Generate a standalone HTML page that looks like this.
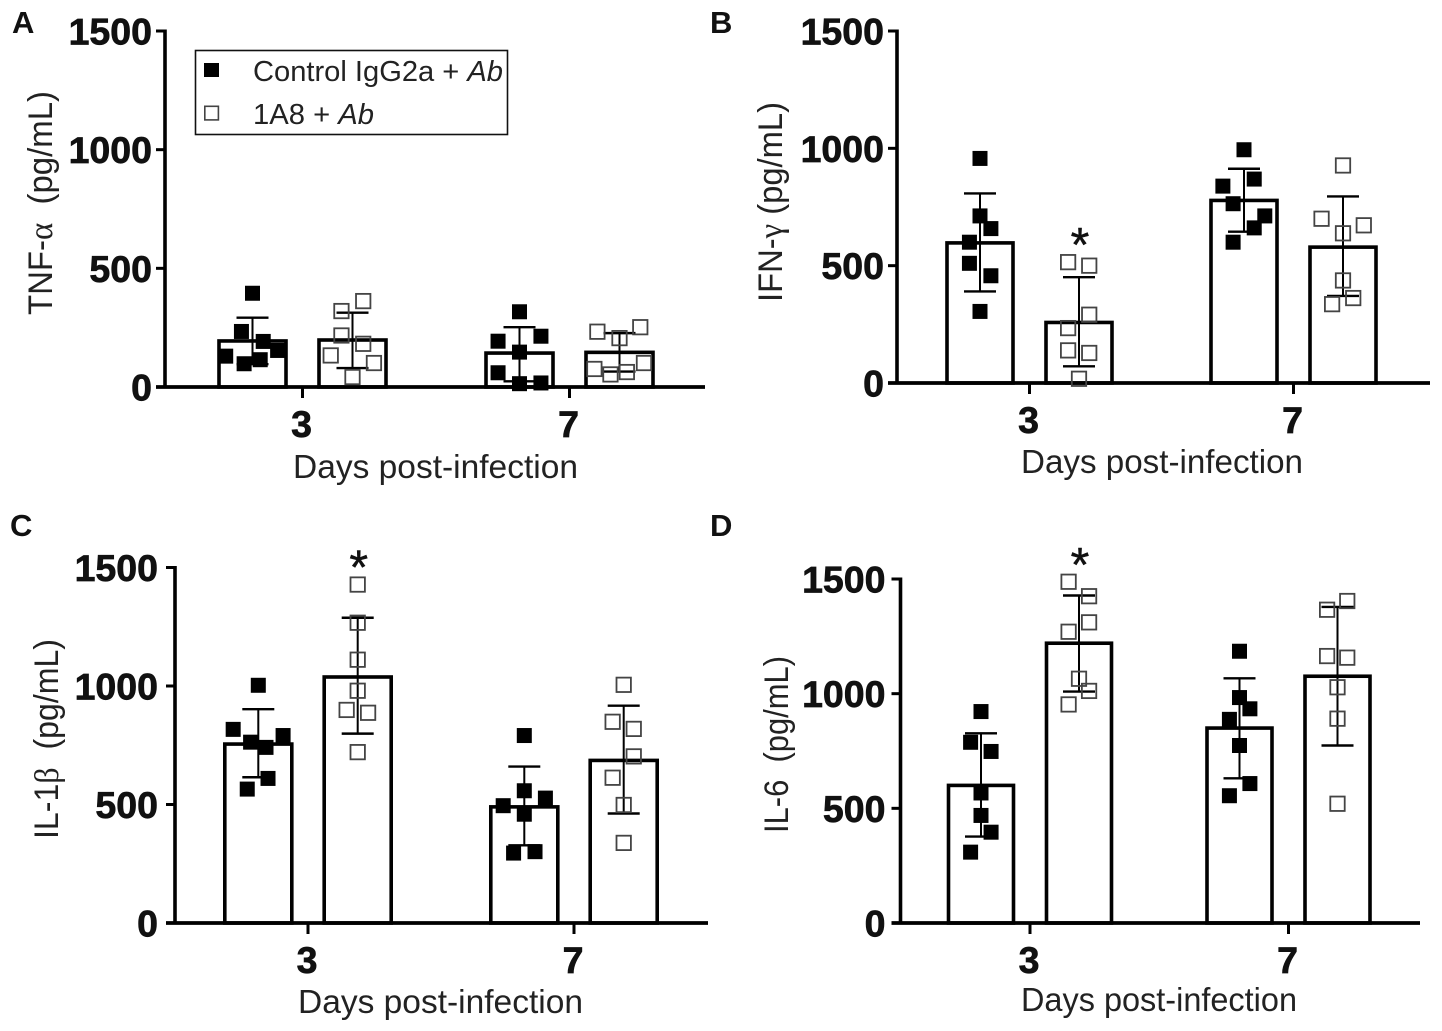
<!DOCTYPE html>
<html lang="en">
<head>
<meta charset="utf-8">
<title>Cytokine levels after infection</title>
<style>
html,body{margin:0;padding:0;background:#fff;}
svg{display:block;}
text{font-family:"Liberation Sans",sans-serif;fill:#111;}
.panel-letter{font-size:31px;font-weight:bold;}
.y-title{font-size:34px;fill:#222;}
.x-title{font-size:33px;fill:#222;}
.greek{font-family:"Liberation Serif",serif;}
.legend-text{font-size:29px;fill:#222;}
.tick-label{font-size:37.5px;font-weight:bold;stroke:#111;stroke-width:.7px;}
.day-label{font-size:37.5px;font-weight:bold;stroke:#111;stroke-width:.7px;}
.star{font-size:48px;stroke:#111;stroke-width:.5px;}
</style>
</head>
<body>
<svg id="figure" xmlns="http://www.w3.org/2000/svg" width="1442" height="1031" viewBox="0 0 1442 1031">
  <rect x="0" y="0" width="1442" height="1031" fill="#fff"/>

  <text class="panel-letter" x="12" y="33">A</text>
  <text class="panel-letter" x="710" y="33">B</text>
  <text class="panel-letter" x="10" y="536">C</text>
  <text class="panel-letter" x="710" y="536">D</text>

  <text class="y-title" transform="translate(52,315) rotate(-90)" textLength="224" lengthAdjust="spacingAndGlyphs">TNF-<tspan class="greek">α</tspan>&#160; (pg/mL)</text>
  <text class="y-title" transform="translate(782,302) rotate(-90)" textLength="200" lengthAdjust="spacingAndGlyphs">IFN-<tspan class="greek">γ</tspan> (pg/mL)</text>
  <text class="y-title" transform="translate(58,839) rotate(-90)" textLength="200" lengthAdjust="spacingAndGlyphs">IL-1<tspan class="greek">β</tspan>&#160; (pg/mL)</text>
  <text class="y-title" transform="translate(788,833) rotate(-90)" textLength="177" lengthAdjust="spacingAndGlyphs">IL-6&#160; (pg/mL)</text>

  <text class="x-title" x="293" y="478" textLength="285" lengthAdjust="spacingAndGlyphs">Days post-infection</text>
  <text class="x-title" x="1021" y="473" textLength="282" lengthAdjust="spacingAndGlyphs">Days post-infection</text>
  <text class="x-title" x="298" y="1013" textLength="285" lengthAdjust="spacingAndGlyphs">Days post-infection</text>
  <text class="x-title" x="1021" y="1011" textLength="276" lengthAdjust="spacingAndGlyphs">Days post-infection</text>

  <g id="panels"></g>

  <g>
    <rect x="195.5" y="50.5" width="312" height="84" fill="#fff" stroke="#111" stroke-width="1.6"/>
    <rect x="204" y="63" width="15" height="14" fill="#000"/>
    <text class="legend-text" x="253" y="81" textLength="250" lengthAdjust="spacingAndGlyphs">Control IgG2a + <tspan font-style="italic">Ab</tspan></text>
    <rect x="204.8" y="106.3" width="13.6" height="13.6" fill="none" stroke="#444" stroke-width="1.6"/>
    <text class="legend-text" x="253" y="124" textLength="121" lengthAdjust="spacingAndGlyphs">1A8 + <tspan font-style="italic">Ab</tspan></text>
  </g>
</svg>

<script>
// Shared axis labels
const yTickValues = [0, 500, 1000, 1500];
const dayLabels = ['3', '7'];
const seriesNames = ['control', '1a8'];

// TNF-alpha: one entry per bar (day 3 control, day 3 1A8, day 7 control, day 7 1A8)
const tnfMeans = [194, 198, 143, 146];
const tnfErrorHigh = [292, 313, 252, 227];
const tnfErrorLow = [96, 80, 24, 65];
const tnfValues = [
  [395, 234, 192, 154, 130, 98, 115],
  [362, 320, 217, 182, 133, 101, 42],
  [317, 193, 214, 147, 60, 14, 17],
  [252, 233, 206, 76, 53, 63, 101]
];
const tnfSpread = [
  [0, -0.33, 0.32, 0.75, -0.8, -0.25, 0.23],
  [0.32, -0.33, -0.33, 0.32, -0.65, 0.64, 0],
  [0, -0.64, 0.64, 0, -0.64, 0, 0.64],
  [0.62, -0.66, 0, -0.75, -0.27, 0.22, 0.73]
];
const tnfStarred = [];

// IFN-gamma
const ifnMeans = [597, 258, 778, 579];
const ifnErrorHigh = [808, 451, 913, 795];
const ifnErrorLow = [390, 71, 645, 371];
const ifnValues = [
  [957, 712, 658, 600, 510, 457, 305],
  [515, 500, 291, 234, 139, 128, 18],
  [994, 839, 869, 764, 712, 661, 600],
  [927, 700, 672, 638, 437, 362, 336]
];
const ifnSpread = [
  [0, 0, 0.33, -0.32, -0.32, 0.33, 0],
  [-0.33, 0.31, 0.31, -0.33, -0.33, 0.31, 0],
  [0, -0.64, 0.31, -0.33, 0.63, 0.31, -0.33],
  [0, -0.65, 0.63, 0, 0, 0.31, -0.33]
];
const ifnStarred = [1];

// IL-1 beta
const il1Means = [755, 1038, 490, 686];
const il1ErrorHigh = [902, 1288, 660, 917];
const il1ErrorLow = [615, 799, 328, 462];
const il1Values = [
  [1003, 817, 791, 763, 741, 610, 565],
  [1428, 1267, 1111, 980, 899, 887, 721],
  [791, 558, 527, 495, 459, 301, 295],
  [1005, 849, 819, 703, 613, 498, 338]
];
const il1Spread = [
  [0, -0.75, 0.74, -0.23, 0.23, 0.29, -0.33],
  [0, 0, 0, 0, -0.33, 0.31, 0],
  [0, 0, 0.63, -0.63, 0, 0.32, -0.32],
  [0, -0.33, 0.3, 0.3, -0.33, 0, 0]
];
const il1Starred = [1];

// IL-6
const il6Means = [600, 1220, 850, 1076];
const il6ErrorHigh = [827, 1428, 1067, 1378];
const il6ErrorLow = [377, 1009, 631, 774];
const il6Values = [
  [922, 788, 748, 567, 469, 396, 309],
  [1488, 1425, 1311, 1270, 1065, 1012, 953],
  [1185, 983, 934, 888, 774, 608, 555],
  [1404, 1366, 1164, 1157, 1028, 891, 520]
];
const il6Spread = [
  [0, -0.32, 0.31, 0, 0, 0.31, -0.32],
  [-0.32, 0.31, 0.31, -0.32, 0, 0.31, -0.32],
  [0, 0, 0.32, -0.31, 0, 0.32, -0.31],
  [0.3, -0.32, -0.32, 0.3, 0, 0, 0]
];
const il6Starred = [1];

const SVG_NS = 'http://www.w3.org/2000/svg';
const MAX_VALUE = 1500;

function make(tag, attrs, parent) {
  const el = document.createElementNS(SVG_NS, tag);
  for (const key in attrs) el.setAttribute(key, attrs[key]);
  parent.appendChild(el);
  return el;
}

function drawPanel(p) {
  const root = document.getElementById('panels');
  const g = make('g', {}, root);
  
  

  // Axis functions
  const yScale = v => p.yZero - (v / MAX_VALUE) * (p.yZero - p.yTop);
  const groupX = i => p.firstTick + i * (p.secondTick - p.firstTick);
  const barX = b => groupX(Math.floor(b / 2)) + (b % 2 === 0 ? -p.barOffset : p.barOffset);
  const spreadX = (b, s) => barX(b) + s * (p.barWidth / 2);

  // Bars
  p.means.forEach((mean, b) => {
    const bar = make('rect', {
      x: barX(b) - p.barWidth / 2,
      y: yScale(mean),
      width: p.barWidth,
      height: yScale(0) - yScale(mean),
      fill: '#fff',
      stroke: '#000',
      'stroke-width': 3.6
    }, g);
    
    
  });

  // Error bars
  p.means.forEach((mean, b) => {
    const err = make('g', { stroke: '#000', fill: 'none' }, g);
    
    
    const cx = barX(b);
    make('line', { x1: cx, x2: cx, y1: yScale(p.errHigh[b]), y2: yScale(p.errLow[b]), 'stroke-width': 2 }, err);
    [p.errHigh[b], p.errLow[b]].forEach(v => {
      make('line', { x1: cx - 16, x2: cx + 16, y1: yScale(v), y2: yScale(v), 'stroke-width': 2.4 }, err);
    });
  });

  // Axes
  const axisY = make('line', { x1: p.yAxisX, x2: p.yAxisX, y1: yScale(MAX_VALUE) - 1.5, y2: yScale(0), stroke: '#000', 'stroke-width': 3.6 }, g);
  
  
  const axisX = make('line', { x1: p.yAxisX - 9, x2: p.xEnd, y1: yScale(0), y2: yScale(0), stroke: '#000', 'stroke-width': 3.8 }, g);
  
  

  yTickValues.forEach(v => {
    const tick = make('line', { x1: p.yAxisX - 9, x2: p.yAxisX, y1: yScale(v), y2: yScale(v), stroke: '#000', 'stroke-width': 3 }, g);
    
    
    const label = make('text', { class: 'tick-label', x: p.yAxisX - p.labelGap, y: yScale(v) + 13.5, 'text-anchor': 'end' }, g);
    label.textContent = String(v);
    
    
  });

  dayLabels.forEach((day, i) => {
    const tick = make('line', { x1: groupX(i), x2: groupX(i), y1: yScale(0), y2: yScale(0) + 11, stroke: '#000', 'stroke-width': 3 }, g);
    
    
    const label = make('text', { class: 'day-label', x: groupX(i) - 1, y: yScale(0) + 50, 'text-anchor': 'middle' }, g);
    label.textContent = day;
    
    
  });

  // Individual points
  p.values.forEach((list, b) => {
    const filled = b % 2 === 0;
    list.forEach((v, k) => {
      const size = filled ? 15 : 14.4;
      const pt = make('rect', {
        x: spreadX(b, p.spread[b][k]) - size / 2,
        y: yScale(v) - size / 2,
        width: size,
        height: size,
        fill: filled ? '#000' : 'none',
        stroke: filled ? 'none' : '#444',
        'stroke-width': filled ? 0 : 1.8
      }, g);
      
      
    });
  });

  // Significance markers sit just above the tallest point of the bar
  p.starred.forEach(b => {
    const star = make('text', { class: 'star', x: barX(b) + 1, y: yScale(Math.max.apply(null, p.values[b])) - 1, 'text-anchor': 'middle' }, g);
    star.textContent = '*';
    
    
  });
}

drawPanel({ id: 'tnf', yAxisX: 165, xEnd: 705, yZero: 387, yTop: 31, labelGap: 13, firstTick: 302.5, secondTick: 569.5, barOffset: 50, barWidth: 67,
  means: tnfMeans, errHigh: tnfErrorHigh, errLow: tnfErrorLow, values: tnfValues, spread: tnfSpread, starred: tnfStarred });
drawPanel({ id: 'ifn', yAxisX: 897, xEnd: 1430, yZero: 383, yTop: 31, labelGap: 13, firstTick: 1029.5, secondTick: 1293.5, barOffset: 49.5, barWidth: 66,
  means: ifnMeans, errHigh: ifnErrorHigh, errLow: ifnErrorLow, values: ifnValues, spread: ifnSpread, starred: ifnStarred });
drawPanel({ id: 'il1', yAxisX: 175, xEnd: 708, yZero: 923, yTop: 567.5, labelGap: 17, firstTick: 308, secondTick: 574, barOffset: 49.7, barWidth: 67,
  means: il1Means, errHigh: il1ErrorHigh, errLow: il1ErrorLow, values: il1Values, spread: il1Spread, starred: il1Starred });
drawPanel({ id: 'il6', yAxisX: 900.5, xEnd: 1420, yZero: 923, yTop: 579, labelGap: 15, firstTick: 1030, secondTick: 1288.5, barOffset: 49, barWidth: 65,
  means: il6Means, errHigh: il6ErrorHigh, errLow: il6ErrorLow, values: il6Values, spread: il6Spread, starred: il6Starred });
</script>
</body>
</html>
